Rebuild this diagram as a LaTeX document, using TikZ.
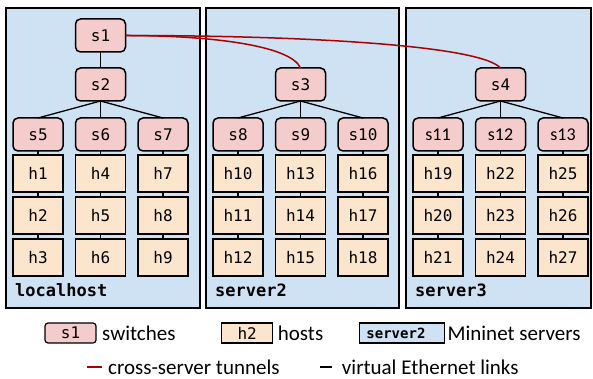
\documentclass[tikz,border=0pt]{standalone}
\usepackage{fontspec}
\setmainfont{Carlito}
\setmonofont{DejaVu Sans Mono}
\usetikzlibrary{positioning,fit}
\definecolor{serverColor}{RGB}{207,226,243}
\definecolor{switchColor}{RGB}{244,204,204}
\definecolor{hostColor}{RGB}{252,229,205}
\definecolor{tunnelColor}{RGB}{170,0,0}
\newcommand{\nodefont}{\fontsize{16}{18}\selectfont\ttfamily}
\newcommand{\swfont}{\fontsize{18}{20}\selectfont}
\newcommand{\serverfont}{\fontsize{17}{19}\selectfont\ttfamily\bfseries}
\newcommand{\legendfont}{\fontsize{21}{23}\selectfont}
\newcommand{\legendsmallfont}{\fontsize{14}{16}\selectfont\ttfamily\bfseries}

\begin{document}
\begin{tikzpicture}[
    x=1pt, y=1pt,
    sw/.style={draw, line width=1.5pt, rounded corners=5pt, fill=switchColor, minimum width=50pt, minimum height=33pt, inner sep=0pt, outer sep=0pt, font=\nodefont},
    host/.style={draw, line width=1.5pt, fill=hostColor, minimum width=50pt, minimum height=37pt, inner sep=0pt, outer sep=0pt, font=\nodefont},
    server/.style={draw, line width=1.6pt, fill=serverColor, inner sep=0pt, outer sep=0pt},
    srvlabel/.style={inner sep=0pt, font=\serverfont},
    link/.style={line width=1.3pt, black},
    tunnel/.style={line width=1.5pt, tunnelColor},
    legend/.style={inner sep=0pt, font=\legendfont},
    lsw/.style={draw, line width=1.2pt, rounded corners=3pt, fill=switchColor, minimum width=51pt, minimum height=20pt, inner sep=0pt, outer sep=0pt, font=\nodefont},
    lhost/.style={draw, line width=1.2pt, fill=hostColor, minimum width=51pt, minimum height=20pt, inner sep=0pt, outer sep=0pt, font=\nodefont},
    lserver/.style={draw, line width=1.2pt, fill=serverColor, text width=71pt, inner xsep=7pt, inner ysep=0pt, outer sep=0pt, minimum height=20pt, align=left, font=\legendsmallfont},
    node distance=16pt and 12.5pt
  ]
  \useasboundingbox (0,0) rectangle (593,-379);

  % servers
  \node[server, fit={(6,-8) (200,-308)}] (srv1) {};
  \node[server, fit={(206,-8) (399,-308)}] (srv2) {};
  \node[server, fit={(406,-8) (591,-308)}] (srv3) {};
  \node[srvlabel, above right=11pt and 9pt of srv1.south west] (lbl1) {localhost};
  \node[srvlabel, above right=11pt and 9pt of srv2.south west] (lbl2) {server2};
  \node[srvlabel, above right=11pt and 9pt of srv3.south west] (lbl3) {server3};

  % switches
  \node[sw] (s1) at (100.5,-35.5) {s1};
  \node[sw, below=of s1] (s2) {s2};
  \node[sw, right=150pt of s2] (s3) {s3};
  \node[sw, right=150pt of s3] (s4) {s4};
  \node[sw, below=17pt of s2] (s6) {s6};
  \node[sw, left=of s6] (s5) {s5};
  \node[sw, right=of s6] (s7) {s7};
  \node[sw, below=17pt of s3] (s9) {s9};
  \node[sw, left=of s9] (s8) {s8};
  \node[sw, right=of s9] (s10) {s10};
  \node[sw, below=17pt of s4, font=\swfont] (s12) {s12};
  \node[sw, left=of s12, font=\swfont] (s11) {s11};
  \node[sw, right=of s12, font=\swfont] (s13) {s13};

  \draw[link] (s1) -- (s2);
  \draw[link] (s2.south) -- (s5.north);
  \draw[link] (s2) -- (s6);
  \draw[link] (s2.south) -- (s7.north);
  \draw[link] (s3.south) -- (s8.north);
  \draw[link] (s3) -- (s9);
  \draw[link] (s3.south) -- (s10.north);
  \draw[link] (s4.south) -- (s11.north);
  \draw[link] (s4) -- (s12);
  \draw[link] (s4.south) -- (s13.north);

  % hosts
  \foreach \sw/\ha/\hb/\hc in {s5/1/2/3, s6/4/5/6, s7/7/8/9, s8/10/11/12, s9/13/14/15, s10/16/17/18, s11/19/20/21, s12/22/23/24, s13/25/26/27} {
    \node[host, below=4pt of \sw] (h\ha) {h\ha};
    \node[host, below=5pt of h\ha] (h\hb) {h\hb};
    \node[host, below=5pt of h\hb] (h\hc) {h\hc};
    \draw[link] (\sw) -- (h\ha) (h\ha) -- (h\hb) (h\hb) -- (h\hc);
  }

  % tunnels
  \draw[tunnel] (s1.east) .. controls +(83,0) and +(-10,23) .. (s3.north);
  \draw[tunnel] (s1.east) .. controls +(175,0) and +(-21,23) .. (s4.north);

  % legend
  \node[lsw] (ls1) at (70.5,-333) {s1};
  \node[legend, right=6pt of ls1] (lswitches) {switches};
  \node[lhost, right=46pt of lswitches] (lh2) {h2};
  \node[legend, right=5pt of lh2] (lhosts) {hosts};
  \node[lserver, right=36pt of lhosts] (lsrv) {server2};
  \node[legend, right=3pt of lsrv] (lmininet) {Mininet servers};
  \node[legend, anchor=west] (ltunnel) at (108,-367) {cross-server tunnels};
  \node[legend, right=62pt of ltunnel] (lveth) {virtual Ethernet links};
  \draw[tunnel] ([xshift=-21pt]ltunnel.west) -- ([xshift=-6pt]ltunnel.west);
  \draw[link] ([xshift=-22pt]lveth.west) -- ([xshift=-10pt]lveth.west);
\end{tikzpicture}
\end{document}
